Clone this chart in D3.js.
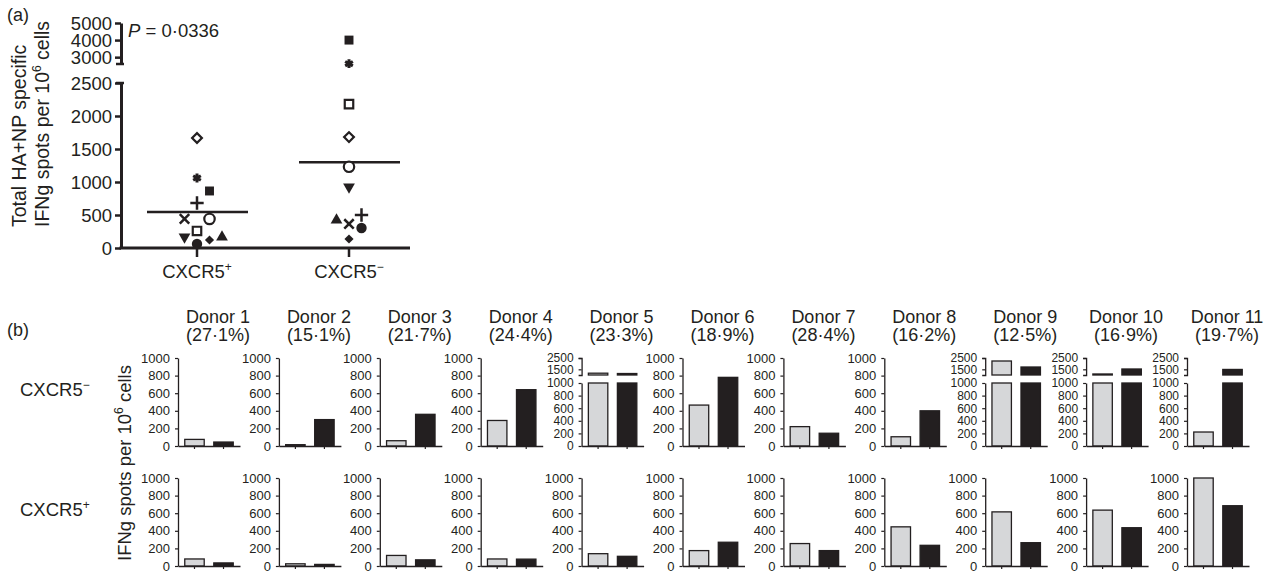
<!DOCTYPE html>
<html>
<head>
<meta charset="utf-8">
<script src="https://cdn.jsdelivr.net/npm/d3@7"></script>
<style>
  body { margin: 0; background: #fff; }
  svg { font-family: "Liberation Sans", Arial, Helvetica, sans-serif; }
  text { fill: #231f20; }
  .axis path, .axis line { stroke: #231f20; }
</style>
</head>
<body>
<svg id="chart" width="1272" height="573"></svg>
<script>
(function () {
  "use strict";

  // ── Data: panel (a) ──
  const groups = ["CXCR5+", "CXCR5−"];
  // one marker per donor (donor 1 .. 11)
  const markers = ["filledDiamond", "filledCircle", "upTri", "downTri", "openSquare",
                   "openCircle", "times", "plus", "filledSquare", "asterisk", "openDiamond"];
  const totalPos = [121, 60, 167, 167, 258, 440, 440, 682, 864, 1060, 1667];
  const totalNeg = [136, 303, 424, 925, 2180, 1230, 364, 500, 4000, 2620, 1680];
  // side-by-side slot of overlapping points
  const slotPos = [1, 0, 2, -1, 0, 1, -1, 0, 1, 0, 0];
  const slotNeg = [0, 1, -1, 0, 0, 0, 0, 1, 0, 0, 0];
  const means = [545, 1300];
  const lowTicks = [0, 500, 1000, 1500, 2000, 2500];
  const highTicks = [3000, 4000, 5000];

  // ── Data: panel (b) ──
  const donors = ["Donor 1", "Donor 2", "Donor 3", "Donor 4", "Donor 5", "Donor 6",
                  "Donor 7", "Donor 8", "Donor 9", "Donor 10", "Donor 11"];
  const donorPct = ["(27·1%)", "(15·1%)", "(21·7%)", "(24·4%)", "(23·3%)", "(18·9%)",
                    "(28·4%)", "(16·2%)", "(12·5%)", "(16·9%)", "(19·7%)"];
  const greyNeg  = [75, 15, 60, 290, 1160, 465, 220, 105, 2235, 1090, 222];
  const blackNeg = [45, 300, 360, 640, 1130, 780, 145, 400, 1706, 1530, 1490];
  const greyPos  = [80, 25, 120, 80, 140, 175, 255, 445, 615, 635, 1000];
  const blackPos = [35, 18, 70, 78, 110, 270, 175, 235, 265, 435, 685];
  const rows = [
    { label: "CXCR5", sup: "−", grey: greyNeg, black: blackNeg },
    { label: "CXCR5", sup: "+", grey: greyPos, black: blackPos }
  ];
  const barTicksLow = [0, 200, 400, 600, 800, 1000];
  const barTicksHigh = [1500, 2500];

  const ink = "#231f20", greyFill = "#d6d7d9";
  const fmt = d3.format("d");
  const svg = d3.select("#chart");

  // ════════ Panel (a) ════════
  const a = svg.append("g");
  a.append("text").attr("x", 7).attr("y", 21).attr("font-size", 18).text("(a)");

  const axX = 121;
  const yLow = d3.scaleLinear().domain([0, 2500]).range([248, 83]);
  const yHigh = d3.scaleLinear().domain([2600, 5000]).range([64, 23]);
  const x = d3.scalePoint().domain(groups).range([197, 349]);
  const slot = d3.scaleLinear().domain([-1, 1]).range([-12.5, 12.5]);
  const yVal = v => v > 2500 ? yHigh(v) : yLow(v);

  const axLow = a.append("g").attr("class", "axis").attr("transform", `translate(${axX},0)`)
    .call(d3.axisLeft(yLow).tickValues(lowTicks).tickFormat(fmt).tickSize(6).tickSizeOuter(0).tickPadding(3));
  const axHigh = a.append("g").attr("class", "axis").attr("transform", `translate(${axX},0)`)
    .call(d3.axisLeft(yHigh).tickValues(highTicks).tickFormat(fmt).tickSize(6).tickSizeOuter(0).tickPadding(3));
  [axLow, axHigh].forEach(ax => {
    ax.select(".domain").attr("stroke-width", 3);
    ax.selectAll(".tick line").attr("stroke-width", 2.5);
    ax.selectAll(".tick text").attr("font-size", 18.5).attr("font-family", null)
      .attr("dy", "0.36em");
  });
  // break caps
  [yLow(2500), yHigh(2600)].forEach(yy => {
    a.append("line").attr("x1", axX - 5).attr("x2", axX + 3).attr("y1", yy).attr("y2", yy)
      .attr("stroke", ink).attr("stroke-width", 2.5);
  });

  // x axis
  a.append("line").attr("x1", axX - 1.5).attr("x2", 410).attr("y1", yLow(0)).attr("y2", yLow(0))
    .attr("stroke", ink).attr("stroke-width", 3);
  groups.forEach((gname, i) => {
    a.append("line").attr("x1", x(gname)).attr("x2", x(gname))
      .attr("y1", yLow(0)).attr("y2", yLow(0) + 9).attr("stroke", ink).attr("stroke-width", 2.5);
    const t = a.append("text").attr("x", x(gname)).attr("y", 278)
      .attr("text-anchor", "middle").attr("font-size", 18.5);
    t.append("tspan").text("CXCR5");
    t.append("tspan").attr("font-size", 12).attr("dy", -7).text(i === 0 ? "+" : "−");
  });

  // y title
  const yt = a.append("g").attr("font-size", 19.5);
  yt.append("text").attr("transform", "translate(26,227) rotate(-90)").text("Total HA+NP specific");
  const yt2 = yt.append("text").attr("transform", "translate(48.5,227) rotate(-90)");
  yt2.append("tspan").text("IFNg spots per 10");
  yt2.append("tspan").attr("font-size", 12).attr("dy", -8).text("6");
  yt2.append("tspan").attr("dy", 8).text(" cells");

  // P value
  const pt = a.append("text").attr("x", 128).attr("y", 37).attr("font-size", 18.5);
  pt.append("tspan").attr("font-style", "italic").text("P");
  pt.append("tspan").text(" = 0·0336");

  // mean lines
  means.forEach((m, i) => {
    a.append("line").attr("x1", x(groups[i]) - 50).attr("x2", x(groups[i]) + 51)
      .attr("y1", yVal(m)).attr("y2", yVal(m)).attr("stroke", ink).attr("stroke-width", 2.5);
  });

  // markers
  const sym = {
    filledSquare:  { type: d3.symbolSquare,   size: 80, fill: ink },
    openSquare:    { type: d3.symbolSquare,   size: 72, fill: "#fff", sw: 2.2 },
    filledCircle:  { type: d3.symbolCircle,   size: 85, fill: ink },
    openCircle:    { type: d3.symbolCircle,   size: 85, fill: "#fff", sw: 2.2 },
    filledDiamond: { type: d3.symbolSquare,   size: 42, fill: ink, rot: 45 },
    openDiamond:   { type: d3.symbolSquare,   size: 48, fill: "#fff", sw: 2.2, rot: 45 },
    upTri:         { type: d3.symbolTriangle, size: 60, fill: ink },
    downTri:       { type: d3.symbolTriangle, size: 60, fill: ink, rot: 180 },
    times:         { type: d3.symbolTimes,    size: 60, fill: "none", sw: 2.5 },
    plus:          { type: d3.symbolPlus,     size: 60, fill: "none", sw: 2.5 },
    asterisk:      { type: d3.symbolAsterisk, size: 55, fill: "none", sw: 3 }
  };
  const points = [];
  markers.forEach((m, i) => {
    points.push({ m, g: groups[0], v: totalPos[i], s: slotPos[i] });
    points.push({ m, g: groups[1], v: totalNeg[i], s: slotNeg[i] });
  });
  a.append("g").selectAll("path").data(points).join("path")
    .attr("transform", d => `translate(${x(d.g) + slot(d.s)},${yVal(d.v)}) rotate(${sym[d.m].rot || 0})`)
    .attr("d", d => d3.symbol().type(sym[d.m].type).size(sym[d.m].size)())
    .attr("fill", d => sym[d.m].fill)
    .attr("stroke", d => sym[d.m].sw ? ink : "none")
    .attr("stroke-width", d => sym[d.m].sw || 0);

  // ════════ Panel (b) ════════
  const b = svg.append("g");
  b.append("text").attr("x", 7).attr("y", 336).attr("font-size", 18).text("(b)");

  const rowZero = [446, 566];
  const rowLabelY = [396, 516];
  const colX = d3.scaleLinear().domain([0, 10]).range([178, 1187]);
  const band = d3.scaleBand().domain(["grey", "black"]).range([0, 62])
    .paddingInner(0.33).paddingOuter(0.233);

  rows.forEach((row, r) => {
    const t = b.append("text").attr("x", 20).attr("y", rowLabelY[r]).attr("font-size", 18.5);
    t.append("tspan").text(row.label);
    t.append("tspan").attr("font-size", 12).attr("dy", -7).text(row.sup);
  });

  const bt = b.append("text").attr("transform", "translate(131,463) rotate(-90)")
    .attr("text-anchor", "middle").attr("font-size", 18.5);
  bt.append("tspan").text("IFNg spots per 10");
  bt.append("tspan").attr("font-size", 12).attr("dy", -8).text("6");
  bt.append("tspan").attr("dy", 8).text(" cells");

  donors.forEach((name, i) => {
    const x0 = colX(i);
    const tt = b.append("text").attr("x", x0 + 40).attr("text-anchor", "middle").attr("font-size", 18);
    tt.append("tspan").attr("x", x0 + 40).attr("y", 323).text(name);
    tt.append("tspan").attr("x", x0 + 40).attr("y", 341).text(donorPct[i]);

    rows.forEach((row, r) => {
      const y0 = rowZero[r];
      const vals = [{ k: "grey", v: row.grey[i] }, { k: "black", v: row.black[i] }];
      const broken = d3.max(vals, d => d.v) > 1000;
      const g = b.append("g").attr("transform", `translate(${x0},0)`);
      const yL = d3.scaleLinear().domain([0, 1000]).range(broken ? [y0, y0 - 63] : [y0, y0 - 88]);
      const yU = d3.scaleLinear().domain([1000, 2500]).range([y0 - 71, y0 - 88]);

      const bars = g.append("g");
      bars.selectAll("rect.low").data(vals).join("rect").attr("class", "low")
        .attr("x", d => band(d.k)).attr("width", band.bandwidth())
        .attr("y", d => yL(Math.min(d.v, 1000)))
        .attr("height", d => y0 - yL(Math.min(d.v, 1000)))
        .attr("fill", d => d.k === "grey" ? greyFill : ink)
        .attr("stroke", ink).attr("stroke-width", 1.3);
      if (broken) {
        bars.selectAll("rect.high").data(vals.filter(d => d.v > 1000)).join("rect").attr("class", "high")
          .attr("x", d => band(d.k)).attr("width", band.bandwidth())
          .attr("y", d => yU(d.v))
          .attr("height", d => yU(1000) - yU(d.v))
          .attr("fill", d => d.k === "grey" ? greyFill : ink)
          .attr("stroke", ink).attr("stroke-width", 1.3);
      }

      const axL = g.append("g").attr("class", "axis")
        .call(d3.axisLeft(yL).tickValues(barTicksLow).tickFormat(fmt).tickSize(3).tickSizeOuter(0).tickPadding(5));
      const axes = [axL];
      if (broken) {
        axes.push(g.append("g").attr("class", "axis")
          .call(d3.axisLeft(yU).tickValues(barTicksHigh).tickFormat(fmt).tickSize(3).tickSizeOuter(3).tickPadding(5)));
      }
      const axB = g.append("g").attr("class", "axis").attr("transform", `translate(0,${y0})`)
        .call(d3.axisBottom(band).tickSize(3).tickSizeOuter(0).tickFormat(""));
      axes.push(axB);
      axes.forEach(ax => {
        ax.select(".domain").attr("stroke-width", 1.3);
        ax.selectAll(".tick line").attr("stroke-width", 1.2);
        ax.selectAll(".tick text").attr("font-size", broken ? 12 : 13).attr("font-family", null);
      });
    });
  });
})();
</script>
</body>
</html>
